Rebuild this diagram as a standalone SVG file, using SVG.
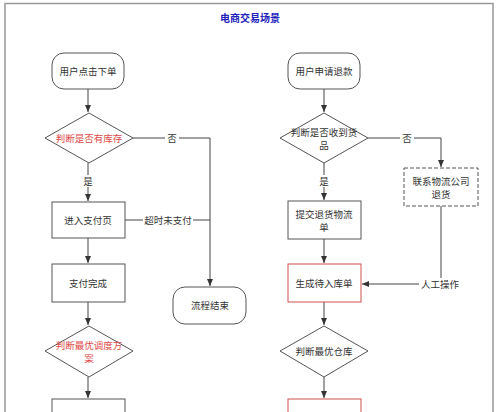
<svg xmlns="http://www.w3.org/2000/svg" width="500" height="412" viewBox="0 0 500 412">
<defs>
<marker id="ah" markerWidth="8" markerHeight="8" refX="7" refY="4" orient="auto" markerUnits="userSpaceOnUse">
<path d="M0,1 L7,4 L0,7 Z" fill="#333"/>
</marker>
<style>
text{font-family:"Noto Sans CJK SC","Liberation Sans",sans-serif;font-size:9.5px;fill:#333;text-anchor:middle;dominant-baseline:central}
.title{font-size:10px;font-weight:bold;fill:#2222bb}
.red{fill:#e04848}
.shape{fill:#fff;stroke:#555;stroke-width:1}
.redbox{fill:#fff;stroke:#d05050;stroke-width:1}
.dash{fill:#fff;stroke:#555;stroke-width:1;stroke-dasharray:4 2}
.edge{fill:none;stroke:#444;stroke-width:1}
.lbl{fill:#fff;stroke:none}
</style>
</defs>
<rect x="0" y="0" width="500" height="412" fill="#fff"/>
<path d="M5,412 V3.5 H493 V412" fill="none" stroke="#999" stroke-width="1.5"/>
<text class="title" x="250" y="17">电商交易场景</text>

<g id="connectors">
<path class="edge" d="M88,89 V112" marker-end="url(#ah)"/>
<path class="edge" d="M88,163 V201" marker-end="url(#ah)"/>
<path class="edge" d="M88,238 V263" marker-end="url(#ah)"/>
<path class="edge" d="M88,302 V325" marker-end="url(#ah)"/>
<path class="edge" d="M88,377 V398" marker-end="url(#ah)"/>
<path class="edge" d="M133,138 H210 V286" marker-end="url(#ah)"/>
<path class="edge" d="M125,220 H210"/>
<path class="edge" d="M324,89 V112" marker-end="url(#ah)"/>
<path class="edge" d="M324,163 V200" marker-end="url(#ah)"/>
<path class="edge" d="M324,239 V263" marker-end="url(#ah)"/>
<path class="edge" d="M324,302 V325" marker-end="url(#ah)"/>
<path class="edge" d="M324,377 V398" marker-end="url(#ah)"/>
<path class="edge" d="M368,138 H441 V167" marker-end="url(#ah)"/>
<path class="edge" d="M441,206 V284 H362" marker-end="url(#ah)"/>
<rect class="lbl" x="165" y="132" width="14" height="12"/>
<text x="172" y="138">否</text>
<rect class="lbl" x="82" y="175" width="12" height="12"/>
<text x="88" y="181">是</text>
<rect class="lbl" x="143" y="214" width="50" height="12"/>
<text x="168" y="220">超时未支付</text>
<rect class="lbl" x="400" y="132" width="14" height="12"/>
<text x="407" y="138">否</text>
<rect class="lbl" x="318" y="175" width="12" height="12"/>
<text x="324" y="181">是</text>
<rect class="lbl" x="419" y="278" width="42" height="12"/>
<text x="440" y="284">人工操作</text>
</g>

<g id="n1"><rect class="shape" x="52" y="53" width="72" height="36" rx="12"/><text x="88" y="71">用户点击下单</text></g>
<g id="n2"><path class="shape" d="M89,113 L133,138 L89,163 L45,138 Z"/><text class="red" x="89" y="138">判断是否有库存</text></g>
<g id="n3"><rect class="shape" x="52" y="202" width="73" height="36"/><text x="88" y="220">进入支付页</text></g>
<g id="n4"><rect class="shape" x="52" y="264" width="73" height="38"/><text x="88" y="283">支付完成</text></g>
<g id="n5"><path class="shape" d="M89,326 L133,351 L89,377 L45,351 Z"/><text class="red" x="89" y="345">判断最优调度方</text><text class="red" x="89" y="358">案</text></g>
<g id="n6"><rect class="shape" x="52" y="399" width="73" height="30"/></g>
<g id="n7"><rect class="shape" x="173" y="287" width="73" height="37" rx="12"/><text x="210" y="305">流程结束</text></g>

<g id="m1"><rect class="shape" x="288" y="53" width="72" height="36" rx="12"/><text x="324" y="71">用户申请退款</text></g>
<g id="m2"><path class="shape" d="M324,113 L368,138 L324,163 L280,138 Z"/><text x="324" y="132">判断是否收到货</text><text x="324" y="145">品</text></g>
<g id="m3"><rect class="shape" x="288" y="201" width="73" height="38"/><text x="324" y="214">提交退货物流</text><text x="324" y="227">单</text></g>
<g id="m4"><rect class="redbox" x="288" y="264" width="73" height="38"/><text x="324" y="283">生成待入库单</text></g>
<g id="m5"><path class="shape" d="M324,326 L368,351 L324,377 L280,351 Z"/><text x="324" y="351">判断最优仓库</text></g>
<g id="m6"><rect class="redbox" x="288" y="399" width="73" height="30"/></g>
<g id="m7"><rect class="dash" x="404" y="168" width="74" height="38"/><text x="441" y="181">联系物流公司</text><text x="441" y="194">退货</text></g>
</svg>
